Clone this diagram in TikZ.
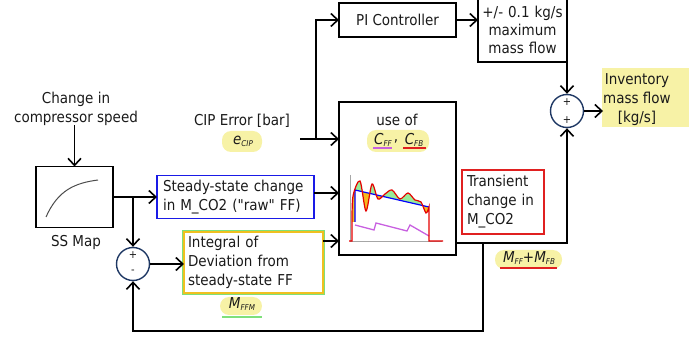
\documentclass[tikz,border=0pt]{standalone}
\usepackage{fontspec}
\setmainfont{DejaVu Sans Condensed}
\usetikzlibrary{arrows.meta}
\definecolor{hly}{HTML}{F7F2A6}
\definecolor{navy}{HTML}{1F3864}
\definecolor{bxblue}{HTML}{1A1AE6}
\definecolor{bxred}{HTML}{E02020}
\definecolor{gold}{HTML}{F0C020}
\definecolor{lgreen}{HTML}{7EE07A}
\definecolor{vio}{HTML}{C860E0}
\definecolor{chorange}{HTML}{F5B820}
\definecolor{chgreen}{HTML}{98EA98}
\definecolor{txt}{HTML}{1A1A1A}
\newcommand\lbl[2]{\textit{#1}\raisebox{-0.25ex}{\fontsize{8}{8}\selectfont\itshape #2}}
\begin{document}
\begin{tikzpicture}[x=1pt,y=-1pt,
  font=\fontsize{15}{19}\selectfont, text=txt,
  box/.style={draw, line width=1.6pt, inner sep=0pt, outer sep=0pt},
  conn/.style={line width=1.6pt, -{Straight Barb[length=7pt,width=13pt]}},
  lab/.style={inner sep=0pt, align=center},
  sumc/.style={circle, draw=navy, line width=1.4pt, minimum size=33pt, inner sep=0pt},
  hl/.style={fill=hly, rounded corners=9pt},
  pm/.style={inner sep=0pt, font=\fontsize{11}{11}\selectfont}]
\useasboundingbox (0,0) rectangle (689,339);

% highlights
\fill[hl] (222,131) rectangle (262,152);
\fill[hl] (367,130) rectangle (429,152);
\fill[hl] (220,297) rectangle (262,315);
\fill[hl] (495,250) rectangle (562,269);
\fill[hly] (602,68) rectangle (689,127);

% left part
\node[lab] (chg) at (76,108.5) {Change in\\compressor speed};
\node[box, minimum width=77pt, minimum height=61pt] (ss) at (74.5,197) {};
\draw[gray!60!black, line width=1pt] (46,217) .. controls (58,190) and (75,183) .. (98,180);
\node[lab] (sslbl) at (76,242) {SS Map};

\node[box, draw=bxblue, minimum width=157pt, minimum height=43pt, text width=145pt, align=left] (steady) at (235.5,197) {Steady-state change\\in M\_CO2 (\textquotedbl raw\textquotedbl{} FF)};

\node[sumc] (sum1) at (133,264) {};
\node[pm] (p1) at (133,255) {+};
\node[pm] (m1) at (133,272) {-};

\draw[lgreen, line width=1.2pt] (182.3,230.3) rectangle (324.7,294.7);
\node[box, draw=gold, minimum width=139pt, minimum height=61pt, text width=131pt, align=left] (integ) at (253.5,262.5) {Integral of\\Deviation from\\steady-state FF};
\node[lab] (mffm) at (242,304) {\lbl{M}{FFM}};
\draw[lgreen, line width=1.5pt] (222,317) -- (262,317);

\node[lab] (cip) at (242,121) {CIP Error [bar]};
\node[lab] (ecip) at (243,141) {\lbl{e}{CIP}};

% top
\node[box, minimum width=117pt, minimum height=34pt] (pi) at (397.5,20) {PI Controller};
\node[box, minimum width=89pt, minimum height=64pt, text width=89pt, align=center] (lim) at (522.5,30) {+/- 0.1 kg/s\\[-1pt]maximum\\[-1pt]mass flow};
\node[sumc] (sum2) at (567,111) {};
\node[pm] (p2) at (567,102) {+};
\node[pm] (p3) at (567,120) {+};
\node[lab] (inv) at (637,99.5) {Inventory\\mass flow\\{}[kg/s]};

% big box
\node[box, minimum width=117pt, minimum height=153pt] (big) at (397.5,178.5) {};
\node[lab] (use) at (397,120) {use of};
\node[lab] (cff) at (383,140) {\lbl{C}{FF}};
\node[lab] (cm) at (396,141) {,};
\node[lab] (cfb) at (414,140) {\lbl{C}{FB}};
\draw[vio, line width=1.5pt] (373,148) -- (392,148);
\draw[bxred, line width=1.5pt] (403,148) -- (426,148);

% chart
\draw[gray!70, line width=0.8pt] (350,175) -- (350,241) -- (442,241);
\fill[chorange] plot[smooth] coordinates {(352,222) (353,196) (360,181) (366,211) (372,184) (378,199) (385,194) (392,190) (400,199) (408,193) (415,200) (421,202) (426,213) (429,207)} -- (355,190) -- (355,222) -- cycle;
\begin{scope}
\clip (350,160) -- (436,160) -- (436,208.6) -- (355,190) -- cycle;
\fill[chgreen] plot[smooth] coordinates {(352,222) (353,196) (360,181) (366,211) (372,184) (378,199) (385,194) (392,190) (400,199) (408,193) (415,200) (421,202) (426,213) (429,207)} -- (355,190) -- (355,222) -- cycle;
\end{scope}
\draw[vio, line width=1.3pt] (355,225) -- (374,230) -- (376,223) -- (407,231) -- (410,225) -- (429,236);
\draw[blue, line width=1.2pt] (355,222) -- (355,190) -- (429,207);
\draw[red!90!black, line width=1.2pt] (349,241) -- (352,241) -- plot[smooth] coordinates {(352,222) (353,196) (360,181) (366,211) (372,184) (378,199) (385,194) (392,190) (400,199) (408,193) (415,200) (421,202) (426,213) (429,207)} -- (429,241) -- (443,241);

\node[box, draw=bxred, minimum width=82pt, minimum height=64pt, text width=72pt, align=left] (trans) at (503,202) {Transient\\change in\\M\_CO2};
\node[lab] (mff) at (529,258) {\lbl{M}{FF}+\lbl{M}{FB}};
\draw[bxred, line width=1.5pt] (500,268) -- (557,268);

% coordinates
\coordinate (j1) at (133,197);
\coordinate (c0) at (300,139);
\coordinate (j2) at (316,139);
\coordinate (b1) at (339,139);
\coordinate (b2) at (339,193);
\coordinate (b3) at (339,241);
\coordinate (out) at (567,243);
\coordinate (fb) at (483,243);
\coordinate (fb2) at (483,331);

% connectors
\draw[conn] (ss.north |- chg.south) -- (ss.north);
\draw[conn] (ss.east |- steady.west) -- (steady.west);
\draw[conn] (j1) -- (sum1.north);
\draw[conn] (sum1.east) -- (sum1.east -| integ.west);
\draw[conn] (integ.east |- b3) -- (b3);
\draw[conn] (steady.east |- b2) -- (b2);
\draw[conn] (c0) -- (b1);
\draw[conn] (j2) |- (pi.west);
\draw[conn] (pi.east) -- (pi.east -| lim.west);
\draw[conn] (lim.south east) -- (sum2.north);
\draw[conn] (sum2.east) -- (sum2.east -| inv.west);
\draw[conn] (big.east |- out) -| (sum2.south);
\draw[conn] (fb) -- (fb2) -| (sum1.south);
\end{tikzpicture}
\end{document}
